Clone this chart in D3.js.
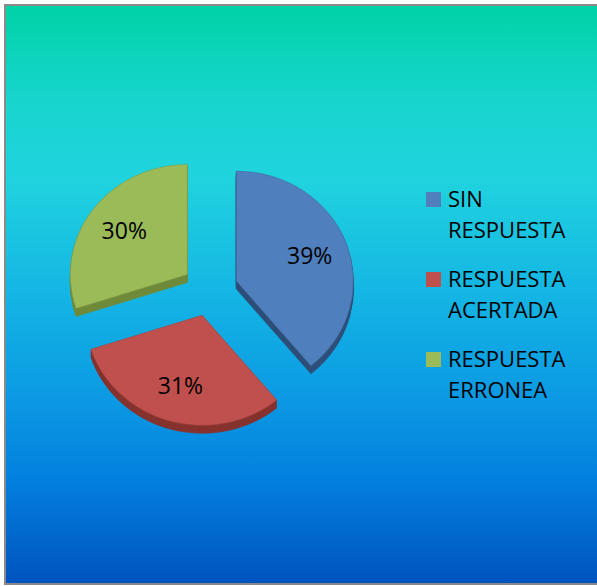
<!DOCTYPE html>
<html>
<head>
<meta charset="utf-8">
<script src="https://cdn.jsdelivr.net/npm/d3@7"></script>
<style>
  body { margin: 0; background: #fff; }
  svg { display: block; }
</style>
</head>
<body>
<div id="chart"></div>
<script>
// datos
var categories = ["SIN RESPUESTA", "RESPUESTA ACERTADA", "RESPUESTA ERRONEA"];
var values = [39, 31, 30];
var colors = ["#4f7fbd", "#c0504d", "#9bbb59"];
var sideColors = ["#2e4f7a", "#86332f", "#6f8a3a"];

var W = 597, H = 586;

var svg = d3.select("#chart").append("svg")
  .attr("width", W).attr("height", H);

// fondo con degradado
var defs = svg.append("defs");
var grad = defs.append("linearGradient")
  .attr("id", "bg").attr("x1", 0).attr("y1", 0).attr("x2", 0).attr("y2", 1);
[[0, "#00d2a6"], [0.16, "#17d5cd"], [0.3, "#20d3de"], [0.5, "#14b5e4"],
 [0.68, "#0b99e3"], [0.82, "#0380df"], [1, "#0053be"]].forEach(function(s) {
  grad.append("stop").attr("offset", s[0]).attr("stop-color", s[1]);
});

svg.append("rect")
  .attr("x", 5).attr("y", 5).attr("width", W).attr("height", 579)
  .attr("fill", "url(#bg)")
  .attr("stroke", "#8a8a8a").attr("stroke-width", 2);

// pastel 3D
var cx = 210, cy = 290, R = 117, ky = 0.94, depth = 8, explode = 28;

var pie = d3.pie().sort(null).value(function(d) { return d; });
var arcs = pie(values);
var arc = d3.arc().innerRadius(0).outerRadius(R);
var total = d3.sum(values);

var g = svg.append("g");

arcs.forEach(function(a, i) {
  var mid = (a.startAngle + a.endAngle) / 2;
  var ox = explode * Math.sin(mid), oy = -explode * Math.cos(mid);

  // lados (extrusión)
  for (var k = depth; k >= 1; k--) {
    g.append("path")
      .attr("d", arc(a))
      .attr("transform", "translate(" + cx + "," + (cy + k) + ") scale(1," + ky + ") translate(" + ox + "," + oy + ")")
      .attr("fill", sideColors[i])
      .attr("stroke", sideColors[i]).attr("stroke-width", 0.6);
  }

  // cara superior
  g.append("path")
    .attr("d", arc(a))
    .attr("transform", "translate(" + cx + "," + cy + ") scale(1," + ky + ") translate(" + ox + "," + oy + ")")
    .attr("fill", colors[i])
    .attr("stroke", d3.color(colors[i]).darker(0.5)).attr("stroke-width", 0.6);

  // etiqueta
  var lr = 78;
  var lx = cx + ox + lr * Math.sin(mid);
  var ly = cy + (oy + -lr * Math.cos(mid)) * ky;
  g.append("text")
    .attr("x", lx).attr("y", ly + 8)
    .attr("text-anchor", "middle")
    .attr("font-family", "'Open Sans', Lato, sans-serif")
    .attr("font-size", "23px")
    .attr("fill", "#000")
    .text(Math.round(values[i] / total * 100) + "%");
});

// leyenda
var legend = svg.append("g");
categories.forEach(function(c, i) {
  var y0 = 207 + i * 80;
  legend.append("rect")
    .attr("x", 426).attr("y", y0 - 15).attr("width", 15).attr("height", 15)
    .attr("fill", colors[i]);
  c.split(" ").forEach(function(w, j) {
    legend.append("text")
      .attr("x", 448).attr("y", y0 + j * 31)
      .attr("font-family", "'Open Sans', Lato, sans-serif")
      .attr("font-size", "22px")
      .attr("fill", "#000")
      .text(w);
  });
});
</script>
</body>
</html>
